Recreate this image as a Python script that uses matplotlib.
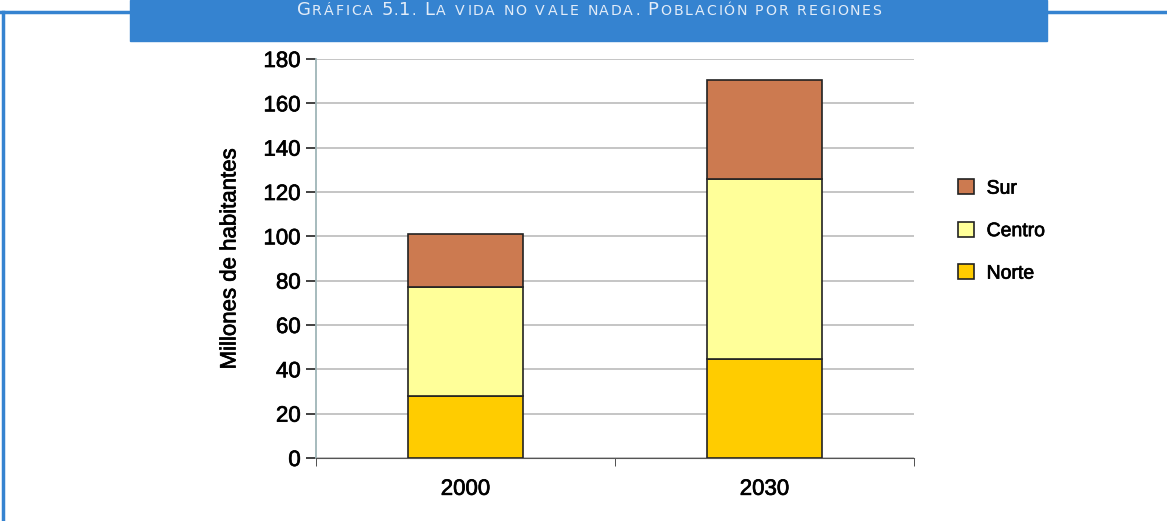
import matplotlib
matplotlib.use("Agg")
import matplotlib.pyplot as plt
from matplotlib.patches import Rectangle
from matplotlib.lines import Line2D
import matplotlib.patheffects as pe
from matplotlib.textpath import TextPath
from matplotlib.font_manager import FontProperties
import numpy as np

years = ["2000", "2030"]
norte = [28, 44.5]
centro = [49, 81.5]
sur = [24, 44.5]
series_names = ["Norte", "Centro", "Sur"]
colors = ["#FFCC00", "#FFFF99", "#CC7A50"]
yticks = [0, 20, 40, 60, 80, 100, 120, 140, 160, 180]

W, H = 1167, 521
fig = plt.figure(figsize=(W / 100, H / 100), dpi=100)
plt.rcParams['font.family'] = ['Liberation Sans', 'DejaVu Sans']

blue = "#3583D0"
def px(x, y):
    return x / W, 1 - y / H

fig.add_artist(Line2D([px(3, 0)[0], px(3, 0)[0]], [px(0, 12)[1], 0], color=blue, lw=2.5, transform=fig.transFigure))
fig.add_artist(Line2D([0, px(131, 0)[0]], [px(0, 12)[1]] * 2, color=blue, lw=2.5, transform=fig.transFigure))
fig.add_artist(Line2D([px(1046, 0)[0], 1], [px(0, 12)[1]] * 2, color=blue, lw=2.5, transform=fig.transFigure))
fig.add_artist(Rectangle(px(130, 41), (1047 - 130) / W, 41 / H, color=blue, transform=fig.transFigure, zorder=1))

# small-caps title, laid out character by character with tracking
title_words = ["Gráfica", "5.1.", "La", "vida", "no", "vale", "nada.", "Población", "por", "regiones"]
caps_first = [True, True, True, False, False, False, False, True, False, False]
BIG, SMALL = 13.0, 10.2
chars = []
for i, (w, c) in enumerate(zip(title_words, caps_first)):
    for j, ch in enumerate(w):
        big = (c and j == 0) or ch.isdigit()
        chars.append((ch.upper(), BIG if big else SMALL))
    if i < len(title_words) - 1:
        chars.append((" ", SMALL))

texts = []
for ch, size in chars:
    t = fig.text(0, 0, ch if ch != " " else "", fontsize=size, color="#E2ECF8",
                 family="DejaVu Sans", va="baseline", ha="left", zorder=3)
    texts.append(t)
fp = FontProperties(family="DejaVu Sans")
widths = []
for (ch, size) in chars:
    if ch == " ":
        widths.append(size * 100 / 72 * 0.32)
    else:
        tp = TextPath((0, 0), ch, size=size * 100 / 72, prop=fp)
        ext = tp.get_extents()
        widths.append(max(ext.x1, 1.0))
natural = sum(widths)
target = 583.0
track = (target - natural) / (len(chars) - 1)
x = 588.5 - target / 2
for t, w in zip(texts, widths):
    t.set_position((x / W, 1 - 15 / H))
    x += w + track

# axes
ax = fig.add_axes([316 / W, 1 - 458 / H, (914 - 316) / W, (458 - 59) / H])
xpos = np.arange(len(years))
bottom = np.zeros(len(years))
handles = []
for name, vals, col in zip(series_names, [norte, centro, sur], colors):
    b = ax.bar(xpos, vals, width=0.385, bottom=bottom, color=col, edgecolor="#222222",
               linewidth=1.2, label=name, zorder=3)
    handles.append(b)
    bottom += np.array(vals)

stroke = [pe.withStroke(linewidth=0.5, foreground="black")]
ax.set_xlim(-0.5, 1.5)
ax.set_ylim(0, 180)
ax.set_yticks(yticks)
ax.set_yticklabels([str(v) for v in yticks], fontsize=16)
ax.grid(axis="y", color="#BBBBBB", lw=1.2, zorder=0)
ax.set_xticks(xpos)
ax.set_xticklabels(years, fontsize=16)
ax.tick_params(axis="x", length=0, pad=15)
ax.set_xticks([-0.5, 0.5, 1.5], minor=True)
ax.tick_params(axis="x", which="minor", length=6, direction="out", color="#333333")
ax.tick_params(axis="y", length=7, width=1.3, direction="out", color="#333333", pad=4)
for lab in ax.get_xticklabels() + ax.get_yticklabels():
    lab.set_path_effects(stroke)
for s in ["top", "right"]:
    ax.spines[s].set_visible(False)
ax.spines["left"].set_color("#9FB5B8")
ax.spines["left"].set_linewidth(1.3)
ax.spines["bottom"].set_color("#555555")
ax.set_ylabel("Millones de habitantes", fontsize=16, path_effects=stroke)
ax.yaxis.set_label_coords((230 - 316) / 598, 0.5)
ax.yaxis.label.set_va("center")

leg = ax.legend(handles[::-1], series_names[::-1], loc="upper left",
                bbox_to_anchor=(1.045, 0.742), frameon=False, fontsize=14,
                handlelength=0.8, handleheight=0.8, labelspacing=1.25, handletextpad=0.65)
for t in leg.get_texts():
    t.set_path_effects(stroke)

fig.savefig("out.png", dpi=100)
